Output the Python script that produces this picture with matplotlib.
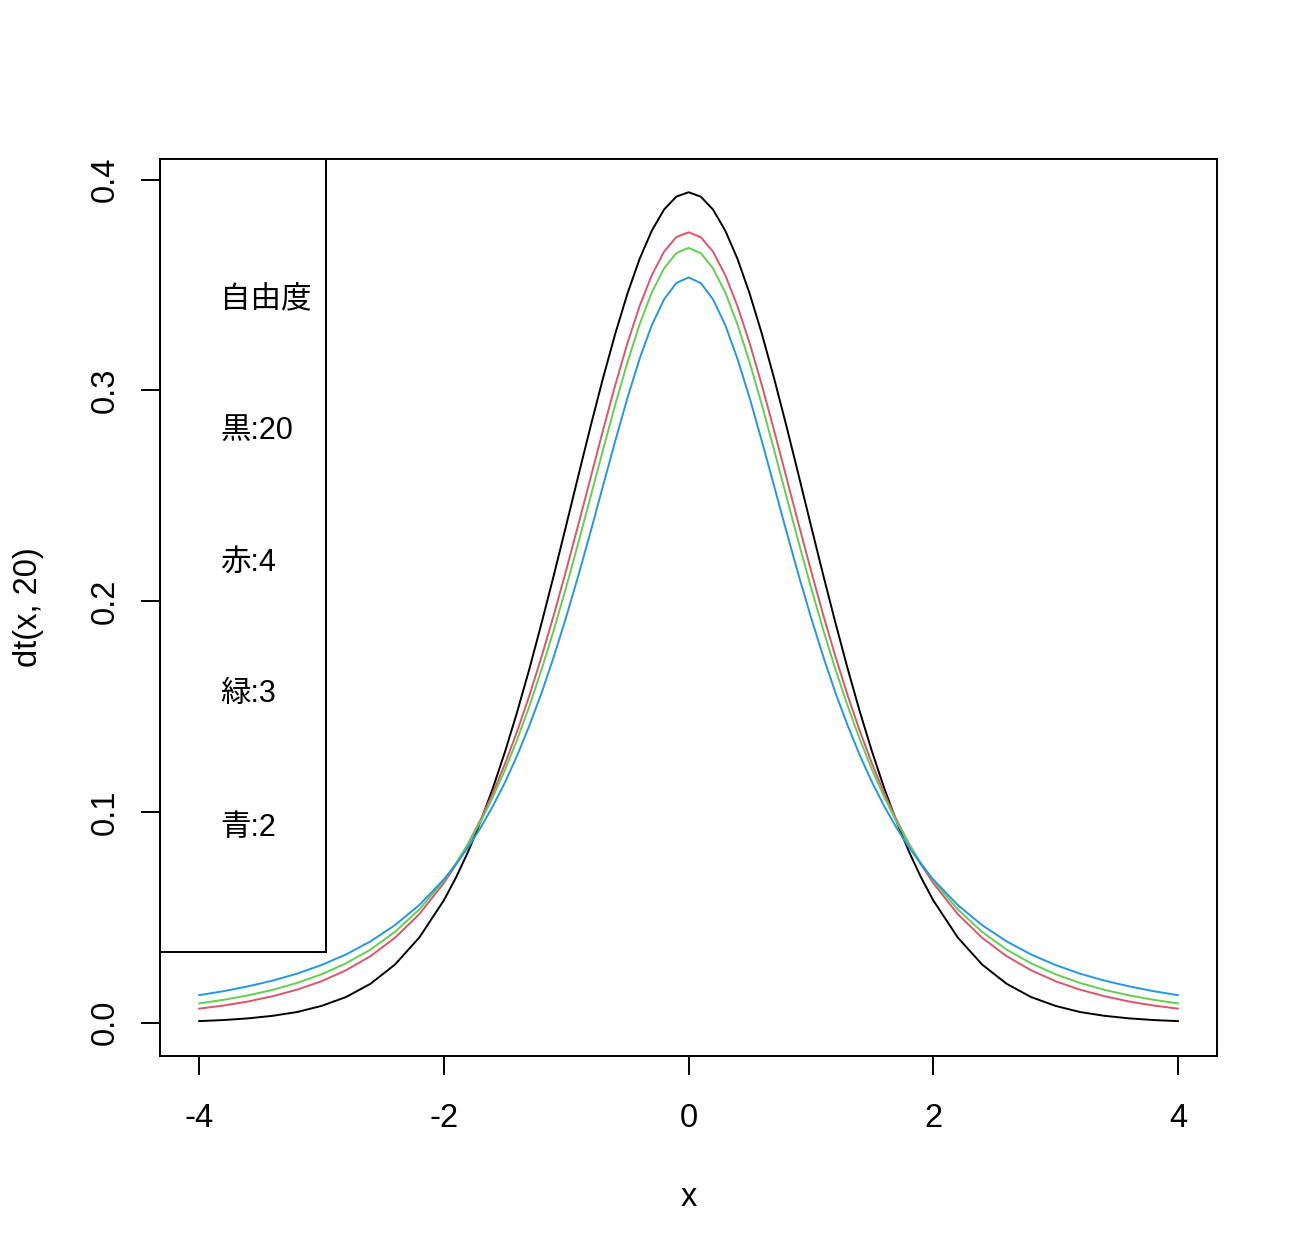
import matplotlib.pyplot as plt
from matplotlib.patches import Rectangle

# half grid, x >= 0 (the curves are symmetric about 0)
x_half = [0.0, 0.1, 0.2, 0.3, 0.4, 0.5, 0.6, 0.7, 0.8, 0.9, 1.0,
          1.1, 1.2, 1.3, 1.4, 1.5, 1.6, 1.7, 1.8, 1.9, 2.0,
          2.2, 2.4, 2.6, 2.8, 3.0, 3.2, 3.4, 3.6, 3.8, 4.0]
df20 = [0.3940, 0.3919, 0.3858, 0.3758, 0.3624, 0.3458, 0.3267, 0.3056, 0.2831, 0.2597, 0.2360,
        0.2126, 0.1899, 0.1681, 0.1476, 0.1286, 0.1112, 0.0955, 0.0814, 0.0690, 0.0581,
        0.0405, 0.0276, 0.0185, 0.0122, 0.0080, 0.0051, 0.0033, 0.0021, 0.0013, 0.0008]
df4 = [0.3750, 0.3727, 0.3658, 0.3547, 0.3400, 0.3223, 0.3023, 0.2809, 0.2587, 0.2365, 0.2147,
       0.1937, 0.1739, 0.1554, 0.1384, 0.1229, 0.1089, 0.0963, 0.0851, 0.0751, 0.0663,
       0.0516, 0.0403, 0.0316, 0.0249, 0.0197, 0.0157, 0.0126, 0.0101, 0.0082, 0.0067]
df3 = [0.3676, 0.3651, 0.3579, 0.3465, 0.3313, 0.3132, 0.2930, 0.2716, 0.2497, 0.2279, 0.2067,
       0.1866, 0.1678, 0.1504, 0.1345, 0.1200, 0.1070, 0.0954, 0.0850, 0.0757, 0.0675,
       0.0538, 0.0431, 0.0347, 0.0282, 0.0230, 0.0189, 0.0156, 0.0130, 0.0109, 0.0092]
df2 = [0.3536, 0.3509, 0.3432, 0.3310, 0.3150, 0.2963, 0.2758, 0.2545, 0.2331, 0.2123, 0.1925,
       0.1739, 0.1567, 0.1411, 0.1269, 0.1141, 0.1027, 0.0925, 0.0834, 0.0753, 0.0680,
       0.0559, 0.0463, 0.0386, 0.0324, 0.0274, 0.0233, 0.0200, 0.0173, 0.0150, 0.0131]

legend_lines = ['自由度', '黒:20', '赤:4', '緑:3', '青:2']
legend_y = [0.3434, 0.2807, 0.2180, 0.1562, 0.0925]


def full(half):
    return half[:0:-1] + half


xs = [-v for v in x_half[:0:-1]] + x_half

plt.rcParams['font.family'] = ['Liberation Sans', 'Noto Sans CJK JP']

fig = plt.figure(figsize=(13, 12.57), dpi=100)
ax = fig.add_axes([0.1231, 0.1599, 0.8131, 0.7136])

ax.plot(xs, full(df20), color='black', lw=1.4)
ax.plot(xs, full(df4), color='#DF536B', lw=1.4)
ax.plot(xs, full(df3), color='#61D04F', lw=1.4)
ax.plot(xs, full(df2), color='#2297E6', lw=1.4)

ax.set_xlim(-4.32, 4.32)
ax.set_ylim(-0.01576, 0.40976)

# legend box drawn by hand (its top runs past the plot region)
ax.add_patch(Rectangle((-4.32, 0.0337), 4.32 - 2.962, 0.5, fill=False,
                       ec='black', lw=1.4, clip_on=True))
for txt, y in zip(legend_lines, legend_y):
    ax.text(-3.828, y, txt, fontsize=22, va='center', ha='left')

ax.set_xticks([-4, -2, 0, 2, 4])
ax.set_xticklabels(['-4', '-2', '0', '2', '4'])
ax.set_yticks([0.0, 0.1, 0.2, 0.3, 0.4])
ax.set_yticklabels(['0.0', '0.1', '0.2', '0.3', '0.4'], rotation=90, va='center')
ax.tick_params(labelsize=23.5, length=14, width=1.4, pad=19.5)
ax.tick_params(axis='y', pad=14)

for s in ax.spines.values():
    s.set_linewidth(1.4)

ax.set_xlabel('x', fontsize=23.5, labelpad=35)
ax.set_ylabel('dt(x, 20)', fontsize=23.5, labelpad=33)

fig.savefig('out.png', dpi=100)
